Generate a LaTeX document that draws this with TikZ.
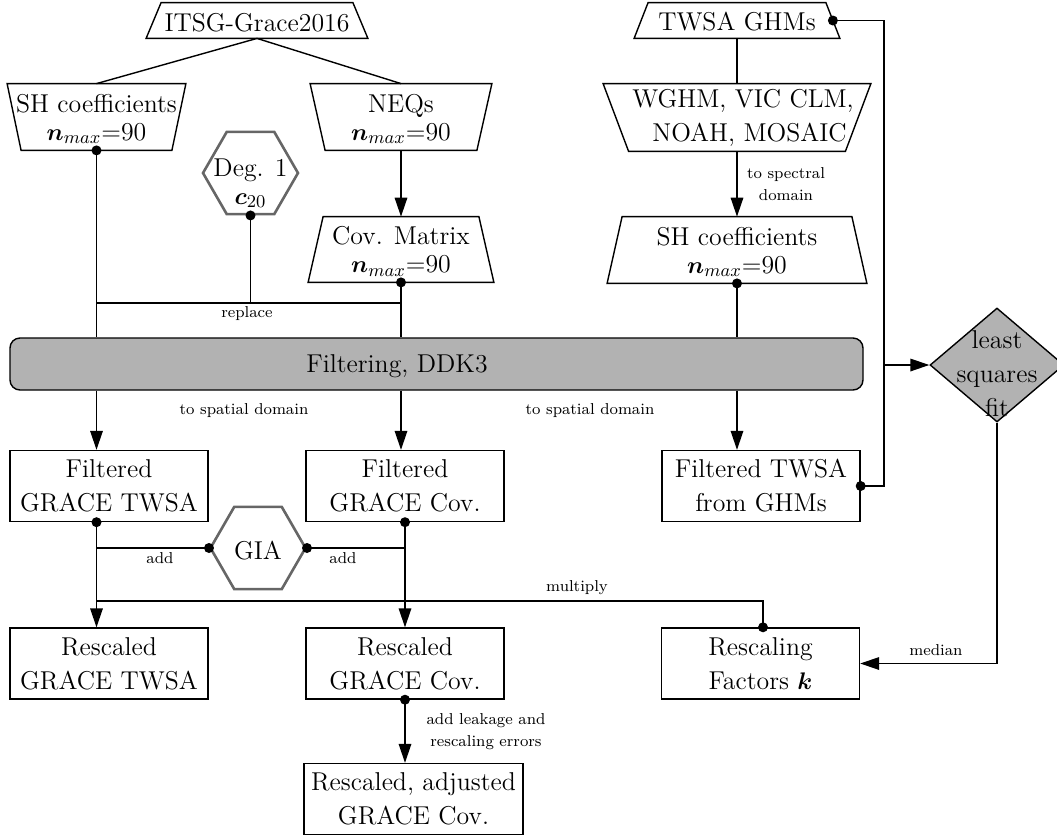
\documentclass[tikz,border=0pt]{standalone}
\usepackage{bm}
\usetikzlibrary{shapes.geometric,arrows.meta}
\newcommand\mainsz{\fontsize{12.9}{17}\selectfont}
\newcommand\lblsz{\fontsize{7.9}{10.8}\selectfont}
% trapezium outlines round a named rectangle node: #1 node, #2 slant
\newcommand\trapwb[2]{\draw[ln] ([xshift=#2]#1.north west) -- ([xshift=-#2]#1.north east) -- (#1.south east) -- (#1.south west) -- cycle;}
\newcommand\trapwt[2]{\draw[ln] (#1.north west) -- (#1.north east) -- ([xshift=-#2]#1.south east) -- ([xshift=#2]#1.south west) -- cycle;}
\begin{document}
\begin{tikzpicture}[x=0.5pt,y=-0.5pt,
  ln/.style={line width=0.7pt},
  arr/.style={ln,-{Triangle[length=9.5pt,width=6.3pt]}},
  trap/.style n args={2}{rectangle,minimum width=#1,minimum height=#2,inner sep=0pt},
  box/.style={draw,ln,rectangle,align=center,font=\mainsz,minimum width=99pt,minimum height=35.5pt,inner xsep=3.5pt,inner ysep=2pt},
  hex/.style={draw=black!60,line width=1.3pt,regular polygon,regular polygon sides=6,minimum size=47.5pt,inner sep=1pt},
  dotn/.style={circle,fill,inner sep=0pt,minimum size=5pt},
  lbl/.style={font=\lblsz,align=center,inner sep=0pt},
  txt/.style={font=\mainsz,align=center,inner sep=0pt},
]
\useasboundingbox (0,0) rectangle (1057,837);

% top trapezia
\node[trap={110.5pt}{17.5pt},
  label={[txt,yshift=-1pt]center:ITSG-Grace2016}] (itsg) at (257,20.5) {};
\trapwb{itsg}{7.5pt}
\node[trap={89pt}{33pt},
  label={[txt,yshift=-1pt]center:{SH coefficients\\[-3pt]$\bm{n}_{max}$=90}}] (shl) at (96.5,117) {};
\trapwt{shl}{7pt}
\node[trap={90.5pt}{33pt},
  label={[txt,yshift=-1pt]center:{NEQs\\[-3pt]$\bm{n}_{max}$=90}}] (neq) at (401,117) {};
\trapwt{neq}{7.5pt}
\node[trap={92.5pt}{32.5pt},
  label={[txt,yshift=-1pt]center:{Cov. Matrix\\[-3pt]$\bm{n}_{max}$=90}}] (cov) at (401,249.5) {};
\trapwb{cov}{7.5pt}
\node[hex,label={[txt,yshift=-5pt]center:{Deg. 1\\[-3pt]$\bm{c}_{20}$}}] (deg) at (250.5,173) {};

\node[trap={102.5pt}{17.5pt},
  label={[txt,yshift=-0.5pt]center:TWSA GHMs}] (twsa) at (737,20.5) {};
\trapwb{twsa}{7pt}
\node[trap={133.5pt}{33.5pt},
  label={[txt,xshift=3pt]center:{WGHM, VIC CLM,\\\hspace{6.5pt}NOAH, MOSAIC}}] (wghm) at (737,117.5) {};
\trapwt{wghm}{12.75pt}
\node[trap={129.5pt}{33pt},
  label={[txt,yshift=-1pt]center:{SH coefficients\\[-3pt]$\bm{n}_{max}$=90}}] (shr) at (737,250) {};
\trapwb{shr}{7.5pt}

% filtering
\node[draw,ln,fill=black!30,rounded corners=5pt,minimum width=426.5pt,minimum height=26pt,inner sep=0pt] (filt) at (436.5,364) {};
\node[txt,anchor=base] (filtT) at (397,372) {Filtering, DDK3};

% diamond
\node[draw,ln,fill=black!30,diamond,minimum width=67pt,minimum height=57pt,inner sep=1pt] (lsq) at (997,365) {};
\node[txt] (lsqT) at (997,374) {least\\squares\\fit};

% boxes
\node[box] (ftw) at (109,486) {Filtered\\GRACE TWSA};
\node[box] (fcov) at (405,486) {Filtered\\GRACE Cov.};
\node[box] (fgh) at (761,486) {Filtered TWSA\\from GHMs};
\node[box] (rtw) at (109,663.5) {Rescaled\\GRACE TWSA};
\node[box] (rcov) at (405,663.5) {Rescaled\\GRACE Cov.};
\node[box] (rk) at (760.5,663.5) {Rescaling\\Factors $\bm{k}$};
\node[box] (radj) at (413.5,799) {Rescaled, adjusted\\GRACE Cov.};
\node[hex,label={[txt,yshift=-1.5pt]center:GIA}] (gia) at (258,548) {};

% helper coordinates
\coordinate (rep) at (250.5,303);
\coordinate (mul) at (763,601);
\coordinate (bus) at (884,365);
\coordinate (twsaE) at ([xshift=-3.5pt]twsa.east);

% connectors top
\draw[ln] (itsg.south) -- (shl.north);
\draw[ln] (itsg.south) -- (neq.north);
\draw[arr] (neq.south) -- (cov.north);
\draw[ln] (twsa.south) -- (wghm.north);
\draw[arr] (wghm.south) -- (shr.north);
\draw[ln] (shl.south) -- (shl.south |- filt.north);
\draw[ln] (cov.south) -- (cov.south |- filt.north);
\draw[ln] (deg.south) -- (rep);
\draw[ln] (shl.south |- rep) -- (cov.south |- rep);
\draw[ln] (shr.south) -- (shr.south |- filt.north);
\node[dotn] (d1) at (shl.south) {};
\node[dotn] (d2) at (cov.south) {};
\node[dotn] (d3) at (deg.south) {};
\node[dotn] (d4) at (shr.south) {};

% below filtering
\draw[arr] (filt.south -| shl.south) -- (ftw.north -| shl.south);
\draw[arr] (filt.south -| cov.south) -- (fcov.north -| cov.south);
\draw[arr] (filt.south -| shr.south) -- (fgh.north -| shr.south);

\draw[arr] (ftw.south -| shl.south) -- (rtw.north -| shl.south);
\draw[arr] (fcov.south) -- (rcov.north);
\draw[arr] (rcov.south) -- (radj.north -| rcov.south);
\draw[ln] (gia.west) -- (gia.west -| shl.south);
\draw[ln] (gia.east) -- (gia.east -| fcov.south);
\draw[ln] (rk.north -| mul) -- (mul) -- (mul -| shl.south);
\draw[arr] (lsq.south) |- (rk.east);
\draw[ln] (fgh.east) -| (bus) |- (twsaE);
\draw[arr] (bus) -- (lsq.west);
\node[dotn] (d5) at (ftw.south -| shl.south) {};
\node[dotn] (d6) at (fcov.south) {};
\node[dotn] (d7) at (rcov.south) {};
\node[dotn] (d8) at (gia.west) {};
\node[dotn] (d9) at (gia.east) {};
\node[dotn] (d10) at (rk.north -| mul) {};
\node[dotn] (d11) at (fgh.east) {};
\node[dotn] (d12) at (twsaE) {};

% labels
\node[lbl] (l1) at (247,314) {replace};
\node[lbl] (l2) at (244,411) {to spatial domain};
\node[lbl] (l3) at (590,411) {to spatial domain};
\node[lbl] (l4) at (786,184) {to spectral\\domain};
\node[lbl] (l5) at (160,558) {add};
\node[lbl] (l6) at (343,558) {add};
\node[lbl] (l7) at (577,588) {multiply};
\node[lbl] (l8) at (936,650) {median};
\node[lbl] (l9) at (486,731.5) {add leakage and\\rescaling errors};
\end{tikzpicture}
\end{document}
